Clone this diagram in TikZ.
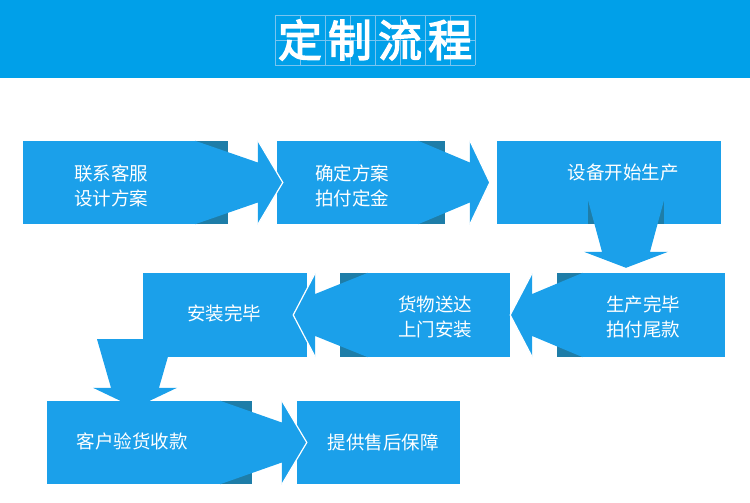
\documentclass[tikz,border=0pt]{standalone}
\usepackage{fontspec}
\setmainfont{Noto Sans CJK SC}
\newfontfamily\titlefont{Noto Sans CJK SC}[FakeBold=3]
\usetikzlibrary{calc}

\definecolor{headblue}{RGB}{0,160,233}
\definecolor{boxblue}{RGB}{27,160,234}
\definecolor{shadeblue}{RGB}{30,125,168}
\definecolor{gridblue}{RGB}{120,196,240}

\tikzset{
  flowbox/.style={fill=boxblue, inner sep=0pt, minimum height=83pt},
  flowtext/.style={text=white, font=\fontsize{18.5}{25}\selectfont, align=center},
  tiptrim/.style={white, line width=1.2pt, line join=miter},
}

% block arrow to the right: from, to, start, head back, tip
\newcommand\arrowright[5]{%
  \fill[shadeblue] ($(#1.north east)+(-#3,0)$) rectangle (#1.south east);
  \fill[boxblue] let \p1=(#1.north east), \p2=(#1.south east), \p3=(#2.west) in
    (\x1-#3pt,\y1) -- (\x3-#4pt,\y3+20pt) -- (\x3-#4pt,\y3+42pt) -- (\x3+#5pt,\y3)
    -- (\x3-#4pt,\y3-42pt) -- (\x3-#4pt,\y3-20pt) -- (\x1-#3pt,\y2) -- cycle;
  \draw[tiptrim] let \p3=(#2.west) in
    (\x3-#4pt,\y3+42pt) -- (\x3+#5pt,\y3) -- (\x3-#4pt,\y3-42pt);
}
% block arrow to the left: from, to, start, head back, tip
\newcommand\arrowleft[5]{%
  \fill[shadeblue] (#1.north west) rectangle ($(#1.south west)+(#3,0)$);
  \fill[boxblue] let \p1=(#1.north west), \p2=(#1.south west), \p3=(#2.east) in
    (\x1+#3pt,\y1) -- (\x3+#4pt,\y3+21pt) -- (\x3+#4pt,\y3+42pt) -- (\x3-#5pt,\y3)
    -- (\x3+#4pt,\y3-42pt) -- (\x3+#4pt,\y3-21pt) -- (\x1+#3pt,\y2) -- cycle;
  \draw[tiptrim] let \p3=(#2.east) in
    (\x3+#4pt,\y3+42pt) -- (\x3-#5pt,\y3) -- (\x3+#4pt,\y3-42pt);
}
% block arrow downwards: from, to, x, start above, head above, tip above
\newcommand\arrowdown[6]{%
  \fill[boxblue] let \p1=(#1.south), \p3=(#2.north) in
    (#3pt-38pt,\y1+#4pt) -- (#3pt+38pt,\y1+#4pt) -- (#3pt+24pt,\y3+#5pt)
    -- (#3pt+42pt,\y3+#5pt) -- (#3pt,\y3+#6pt) -- (#3pt-42pt,\y3+#5pt)
    -- (#3pt-24pt,\y3+#5pt) -- cycle;
}

\begin{document}
\begin{tikzpicture}[x=1pt, y=-1pt]
  \useasboundingbox (0,0) rectangle (750,503);

  % header
  \fill[headblue] (0,0) rectangle (750,78);
  \foreach \x in {275,300,...,475}
    \draw[gridblue, line width=0.6pt] (\x,15) -- (\x,65);
  \foreach \y in {15,40,65}
    \draw[gridblue, line width=0.6pt] (275,\y) -- (475,\y);
  \foreach \ch [count=\i] in {定,制,流,程}
    \node[text=white, font=\titlefont\fontsize{44}{44}\selectfont] (t\i) at (250+50*\i,40) {\ch};

  % boxes
  \node[flowbox, minimum width=205pt] (a) at (125.5,182.5) {};
  \node[flowbox, minimum width=168pt] (b) at (361,182.5) {};
  \node[flowbox, minimum width=224pt] (c) at (609,182.5) {};
  \node[flowbox, minimum width=164pt, minimum height=84pt] (d) at (225,315) {};
  \node[flowbox, minimum width=170pt, minimum height=84pt] (e) at (425,315) {};
  \node[flowbox, minimum width=168pt, minimum height=84pt] (f) at (641,315) {};
  \node[flowbox, minimum width=205pt] (g) at (149.5,442.5) {};
  \node[flowbox, minimum width=163pt] (h) at (378.5,442.5) {};

  % arrows
  \arrowright{a}{b}{33}{19}{6}
  \arrowright{b}{c}{27}{27}{-7}
  \fill[shadeblue] ($(c.south)+(-21,-24)$) rectangle ($(c.south)+(55,0)$);
  \arrowdown{c}{f}{626}{24}{21}{5}
  \arrowleft{f}{e}{26}{22}{0}
  \arrowleft{e}{d}{28}{8}{14}
  \arrowdown{d}{g}{135}{18}{13}{-7}
  \arrowright{g}{h}{32}{15}{10}

  % labels
  \node[flowtext] (ta) at (111,185.5) {联系客服\\设计方案};
  \node[flowtext] (tb) at (352,185.5) {确定方案\\拍付定金};
  \node[flowtext] (tc) at (623,173) {设备开始生产};
  \node[flowtext] (td) at (224,313) {安装完毕};
  \node[flowtext] (te) at (435,316.5) {货物送达\\上门安装};
  \node[flowtext] (tf) at (643,316.5) {生产完毕\\拍付尾款};
  \node[flowtext] (tg) at (132,441) {客户验货收款};
  \node[flowtext] (th) at (383,442) {提供售后保障};
\end{tikzpicture}
\end{document}
